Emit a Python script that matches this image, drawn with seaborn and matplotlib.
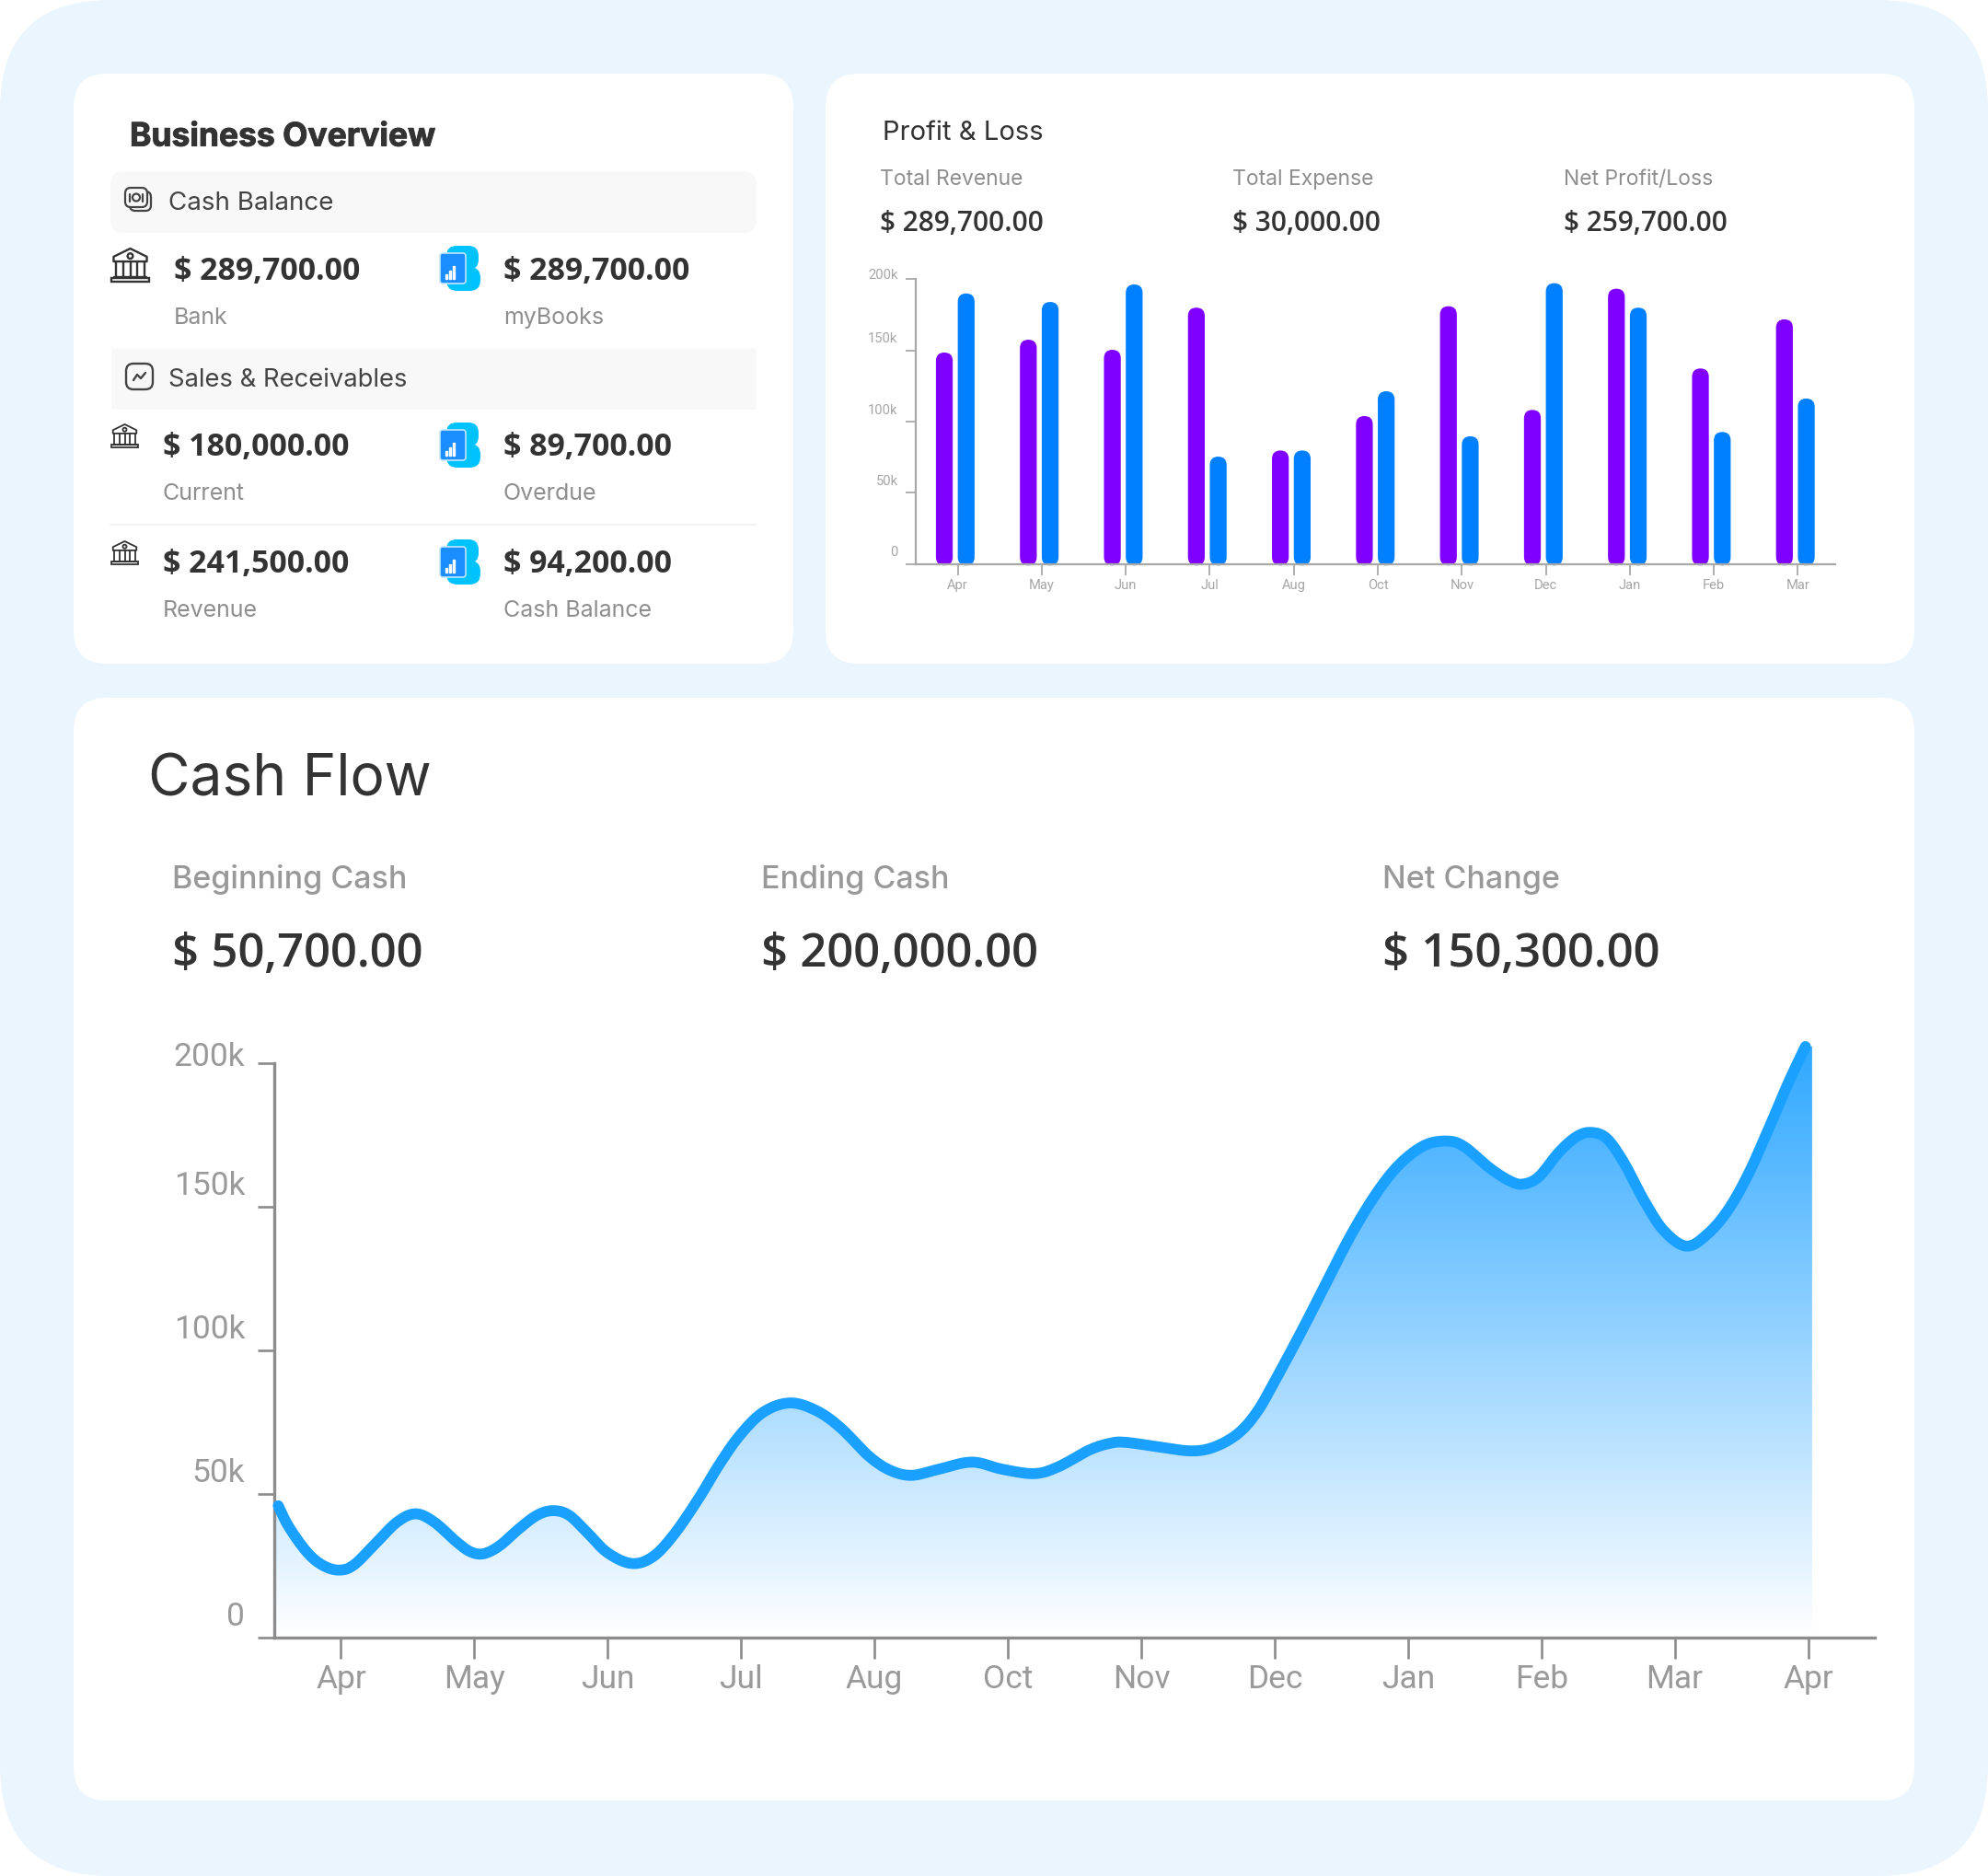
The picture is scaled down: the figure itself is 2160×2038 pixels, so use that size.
import numpy as np
import pandas as pd
import matplotlib
matplotlib.use("Agg")
import matplotlib.pyplot as plt
import matplotlib.patheffects as pe
import seaborn as sns
from matplotlib.colors import LinearSegmentedColormap
from matplotlib.patches import FancyBboxPatch, Polygon, Circle, Rectangle
from matplotlib.transforms import ScaledTranslation

W, H = 2160, 2038

# profit & loss
pl_months = ["Apr", "May", "Jun", "Jul", "Aug", "Oct", "Nov", "Dec", "Jan", "Feb", "Mar"]
pl_purple = [148.5, 157.5, 150.4, 180, 79.7, 103.9, 181, 108.2, 193.3, 137.3, 171.8]
pl_blue = [190, 184, 196.3, 75.4, 79.7, 121.3, 89.7, 197.2, 180, 92.7, 116.2]
y_ticks = [0, 50, 100, 150, 200]
y_labels = ["0", "50k", "100k", "150k", "200k"]

# cash flow curve (month position, value in k)
cf_months = ["Apr", "May", "Jun", "Jul", "Aug", "Oct", "Nov", "Dec", "Jan", "Feb", "Mar", "Apr"]
cf_pos = [-0.47, -0.39, -0.25, -0.13, -0.01, 0.10, 0.26, 0.42, 0.56, 0.70, 0.86, 0.97, 1.07, 1.19,
          1.33, 1.47, 1.59, 1.71, 1.85, 2.00, 2.18, 2.34, 2.50, 2.68, 2.83, 2.99, 3.17, 3.37, 3.57,
          3.75, 3.96, 4.12, 4.28, 4.48, 4.73, 4.96, 5.20, 5.38, 5.61, 5.77, 5.88, 6.09, 6.37, 6.55,
          6.73, 6.87, 7.00, 7.19, 7.37, 7.56, 7.75, 7.93, 8.12, 8.29, 8.42, 8.61, 8.76, 8.86, 8.98,
          9.13, 9.26, 9.37, 9.49, 9.62, 9.77, 9.92, 10.09, 10.25, 10.40, 10.55, 10.70, 10.85, 10.98]
cf_val = [45.9, 38.5, 29.5, 25.0, 23.5, 25.4, 32.8, 40.2, 43.1, 40.2, 33.6, 29.9, 29.2, 32.0,
          37.7, 42.6, 44.2, 42.6, 36.4, 29.5, 25.8, 28.2, 36.1, 48.3, 59.8, 70.4, 78.6, 81.7, 78.9,
          72.9, 63.1, 58.2, 56.5, 58.6, 61.1, 58.6, 57.1, 59.5, 65.3, 67.7, 68.0, 66.7, 65.0, 66.4,
          71.2, 78.7, 89.2, 105.6, 121.9, 139.1, 153.8, 164.5, 171.3, 172.9, 171.0, 163.6, 159.1, 157.9, 160.4,
          168.9, 174.3, 175.9, 173.8, 165.3, 152.2, 141.6, 136.3, 140.7, 148.9, 161.2, 176.7, 193.0, 205.8]

FONT = "Inter"
NUM_FONT = "Open Sans"
DARK = "#333333"
GREY = "#8e8e8e"

sns.set_style("white")
plt.rcParams["font.family"] = [FONT, "DejaVu Sans"]

fig = plt.figure(figsize=(W / 100, H / 100), dpi=100, facecolor="white")
bg = fig.add_axes([0, 0, 1, 1], zorder=0)
bg.set_xlim(0, W)
bg.set_ylim(H, 0)
bg.axis("off")


def chart_axes(x0, y0, x1, y1, z=2):
    a = fig.add_axes([x0 / W, 1 - y1 / H, (x1 - x0) / W, (y1 - y0) / H], zorder=z)
    a.patch.set_alpha(0)
    return a


def rbox(x0, y0, x1, y1, r, fc="none", ec="none", lw=0, z=1):
    p = FancyBboxPatch((x0, y0), x1 - x0, y1 - y0, boxstyle=f"round,pad=0,rounding_size={r}",
                       fc=fc, ec=ec, lw=lw, zorder=z)
    bg.add_patch(p)


def label(x, y, s, size, color=DARK, weight="normal", family=None):
    return bg.text(x, y + 0.12 * size, s, fontsize=size, color=color, fontweight=weight, va="center", ha="left",
                   family=family or [FONT, "DejaVu Sans"], zorder=5)


def bank_icon(x0, y0, x1, y1, lw):
    w, h = x1 - x0, y1 - y0
    c = "#333333"
    bg.add_patch(Polygon([(x0 + .06 * w, y0 + .38 * h), (x0 + .06 * w, y0 + .24 * h), (x0 + .5 * w, y0),
                          (x0 + .94 * w, y0 + .24 * h), (x0 + .94 * w, y0 + .38 * h)],
                         closed=True, fc="none", ec=c, lw=lw, joinstyle="round", zorder=3))
    bg.add_patch(Circle((x0 + .5 * w, y0 + .22 * h), .07 * w, fc="none", ec=c, lw=lw, zorder=3))
    for f in [.12, .31, .5, .69, .88]:
        bg.plot([x0 + f * w] * 2, [y0 + .38 * h, y0 + .84 * h], color=c, lw=lw, zorder=3)
    bg.plot([x0 + .08 * w, x0 + .92 * w], [y0 + .84 * h] * 2, color=c, lw=lw, zorder=3)
    bg.add_patch(Rectangle((x0, y0 + .86 * h), w, .12 * h, fc="none", ec=c, lw=lw, zorder=3))


def logo_icon(x0, y0):
    rbox(x0 + 7, y0, x0 + 42, y0 + 26, 11, fc="#00c2fd", z=3)
    rbox(x0 + 7, y0 + 23, x0 + 44, y0 + 49, 12, fc="#00c2fd", z=3)
    bg.add_patch(Polygon([(x0 + 7, y0 + 8), (x0 + 20, y0 + 8), (x0 + 20, y0 + 40), (x0 + 7, y0 + 40)],
                         fc="#00c2fd", zorder=3))
    rbox(x0, y0 + 8, x0 + 28, y0 + 41, 3, fc="#1a8dff", ec="#bfe6fb", lw=1.2, z=4)
    for dx, top in [(6, 31), (10, 27), (14, 22)]:
        bg.add_patch(Rectangle((x0 + dx, y0 + top), 1.8, 36 - top, fc="#e8f6ff", zorder=5))


def money_icon():
    rbox(141, 208, 164, 229, 6, fc="#f8f8f8", ec="#444444", lw=1.6, z=3)
    rbox(136, 204, 160, 225, 6, fc="#f8f8f8", ec="#444444", lw=1.6, z=4)
    bg.add_patch(Circle((148, 214.5), 4, fc="none", ec="#444444", lw=1.6, zorder=5))
    bg.plot([141, 141], [210.5, 218.5], color="#444444", lw=1.6, zorder=5)
    bg.plot([155, 155], [210.5, 218.5], color="#444444", lw=1.6, zorder=5)


def trend_icon():
    rbox(137, 395, 166, 423, 8, fc="none", ec="#444444", lw=1.7, z=3)
    bg.plot([145, 149, 153, 158], [413, 407, 411, 405], color="#444444", lw=1.7, zorder=3,
            solid_joinstyle="round", solid_capstyle="round")


def smooth_curve(x, y, n=10):
    # catmull-rom through the read points, the reference line is a smoothed one
    pts = np.column_stack([x, y])
    pts = np.vstack([pts[0], pts, pts[-1]])
    t = np.linspace(0, 1, n, endpoint=False)[:, None]
    out = []
    for p0, p1, p2, p3 in zip(pts[:-3], pts[1:-2], pts[2:-1], pts[3:]):
        out.append(0.5 * (2 * p1 + (p2 - p0) * t + (2 * p0 - 5 * p1 + 4 * p2 - p3) * t ** 2
                          + (3 * p1 - p0 - 3 * p2 + p3) * t ** 3))
    out.append(pts[-2][None, :])
    out = np.vstack(out)
    return out[:, 0], out[:, 1]


def style_axis(a, col, lw, ylen, xlen, tcol, tsize, pads, shift_top, shift):
    for s in ["top", "right"]:
        a.spines[s].set_visible(False)
    for s in ["left", "bottom"]:
        a.spines[s].set_visible(True)
        a.spines[s].set_color(col)
        a.spines[s].set_linewidth(lw)
    a.tick_params(axis="y", left=True, length=ylen * .72, width=lw * .8, color=col, pad=pads[0],
                  labelsize=tsize, labelcolor=tcol)
    a.tick_params(axis="x", bottom=True, length=xlen * .72, width=lw * .8, color=col, pad=pads[1],
                  labelsize=tsize, labelcolor=tcol)
    for tl in a.get_xticklabels() + a.get_yticklabels():
        tl.set_family("Roboto")
    for i, tl in enumerate(a.get_yticklabels()):
        dy = shift_top if i == len(y_ticks) - 1 else shift
        tl.set_transform(tl.get_transform() + ScaledTranslation(0, dy * .72 / 72, fig.dpi_scale_trans))


# cards
rbox(0, 0, W, H, 120, fc="#eaf5fe", z=0)
rbox(80, 80, 862, 721, 36, fc="white")
rbox(897, 80, 2080, 721, 36, fc="white")
rbox(80, 758, 2080, 1956, 36, fc="white")

# business overview
title = label(141, 146, "Business Overview", 25.5, weight="bold")
title.set_path_effects([pe.withStroke(linewidth=0.7, foreground=DARK)])
rbox(120, 186, 822, 253, 14, fc="#f8f8f8", z=2)
bg.add_patch(Rectangle((120, 377), 702, 68, fc="#f8f8f8", zorder=2))
bg.plot([120, 822], [570, 570], color="#f3f3f3", lw=1.5, zorder=2)
money_icon()
trend_icon()
label(183, 219, "Cash Balance", 20, color="#444444")
label(183, 411, "Sales & Receivables", 19.7, color="#444444")

for x, y, s in [(189, 292, "$ 289,700.00"), (547, 292, "$ 289,700.00"), (177, 483, "$ 180,000.00"),
                (547, 483, "$ 89,700.00"), (177, 610, "$ 241,500.00"), (547, 610, "$ 94,200.00")]:
    label(x, y, s, 24.4, weight="bold", family=NUM_FONT)
for x, y, s in [(189, 343, "Bank"), (547, 343, "myBooks"), (177, 534, "Current"),
                (547, 534, "Overdue"), (177, 661, "Revenue"), (547, 661, "Cash Balance")]:
    label(x, y, s, 18, color=GREY)

bank_icon(121, 270, 162, 307, 1.7)
bank_icon(121, 461, 150, 487, 1.3)
bank_icon(121, 588, 150, 614, 1.3)
for y in [267, 459, 586]:
    logo_icon(478, y)

# profit & loss header
label(959, 142, "Profit & Loss", 21, color="#333333")
for x, s, v in [(956, "Total Revenue", "$ 289,700.00"), (1339, "Total Expense", "$ 30,000.00"),
                (1699, "Net Profit/Loss", "$ 259,700.00")]:
    label(x, 193, s, 16.5, color=GREY)
    label(x, 240, v, 21.5, weight="semibold", family=NUM_FONT)

# cash flow header
label(161, 843, "Cash Flow", 44.8, color="#333333")
for x, s, v in [(187, "Beginning Cash", "$ 50,700.00"), (827, "Ending Cash", "$ 200,000.00"),
                (1502, "Net Change", "$ 150,300.00")]:
    label(x, 953, s, 24.5, color="#999999", weight="medium")
    label(x, 1033, v, 36.6, weight="semibold", family=NUM_FONT)

# profit & loss bars
pl_df = pd.DataFrame({
    "month": pl_months * 2,
    "value": pl_purple + pl_blue,
    "kind": ["purple"] * len(pl_months) + ["blue"] * len(pl_months),
})
ax1 = chart_axes(995, 303.3, 1993.6, 612.7)
sns.barplot(data=pl_df, x="month", y="value", hue="kind", palette={"purple": "#8000ff", "blue": "#0080ff"},
            width=0.52, gap=0.23, legend=False, ax=ax1, saturation=1)
ax1.set_xlim(-0.5, 10.44)
ax1.set_ylim(0, 200)
ax1.set_xlabel("")
ax1.set_ylabel("")
ax1.set_yticks(y_ticks, y_labels)
aspect = (200 / 309.4) / (10.94 / 998.6)
for b in list(ax1.patches):
    x, w, h, col = b.get_x(), b.get_width(), b.get_height(), b.get_facecolor()
    b.remove()
    if h <= 0:
        continue
    ax1.add_patch(FancyBboxPatch((x - 0.03, -1), w, h + 1, boxstyle=f"round,pad=0,rounding_size={w / 2}",
                                 mutation_aspect=aspect, fc=col, ec="none", clip_on=False, zorder=2))
style_axis(ax1, "#a8a8a8", 1.6, 11, 12, "#a6a6a6", 10.6, (6, 3), 6, 14)

# cash flow area, the fill lives on its own axes because the curve runs past 200k
xs, ys = smooth_curve(cf_pos, cf_val)
top = 206
ax_fill = chart_axes(298, 1779 - top * 3.12, 2037, 1779, z=1)
ax_fill.axis("off")
grad = LinearSegmentedColormap.from_list("fade", ["#ffffff", "#2fa8ff"])
img = ax_fill.imshow(np.linspace(1, 0, 256)[:, None], cmap=grad, aspect="auto", vmin=0, vmax=1,
                     extent=(-0.5, 11.03, 0, top), zorder=1)
ax_fill.set_xlim(-0.5, 11.5)
ax_fill.set_ylim(0, top)
clip_verts = np.vstack([[-0.5, 0], [-0.5, cf_val[0]], np.column_stack([xs, ys]),
                        [11.03, cf_val[-1]], [11.03, 0]])
clip = Polygon(clip_verts, closed=True, transform=ax_fill.transData, fc="none", ec="none")
ax_fill.add_patch(clip)
img.set_clip_path(clip)

ax2 = chart_axes(298, 1155, 2037, 1779)
sns.lineplot(x=xs, y=ys, sort=False, estimator=None, color="#1aa0ff", lw=8.5, ax=ax2, zorder=3,
             clip_on=False, solid_capstyle="round", solid_joinstyle="round")
ax2.set_xlim(-0.5, 11.5)
ax2.set_ylim(0, 200)
ax2.set_xticks(range(len(cf_months)), cf_months)
ax2.set_yticks(y_ticks, y_labels)
style_axis(ax2, "#8c8c8c", 2.4, 18, 23, "#9a9a9a", 25.5, (10, 4), 10, 26)

fig.savefig("out.png", dpi=100)
